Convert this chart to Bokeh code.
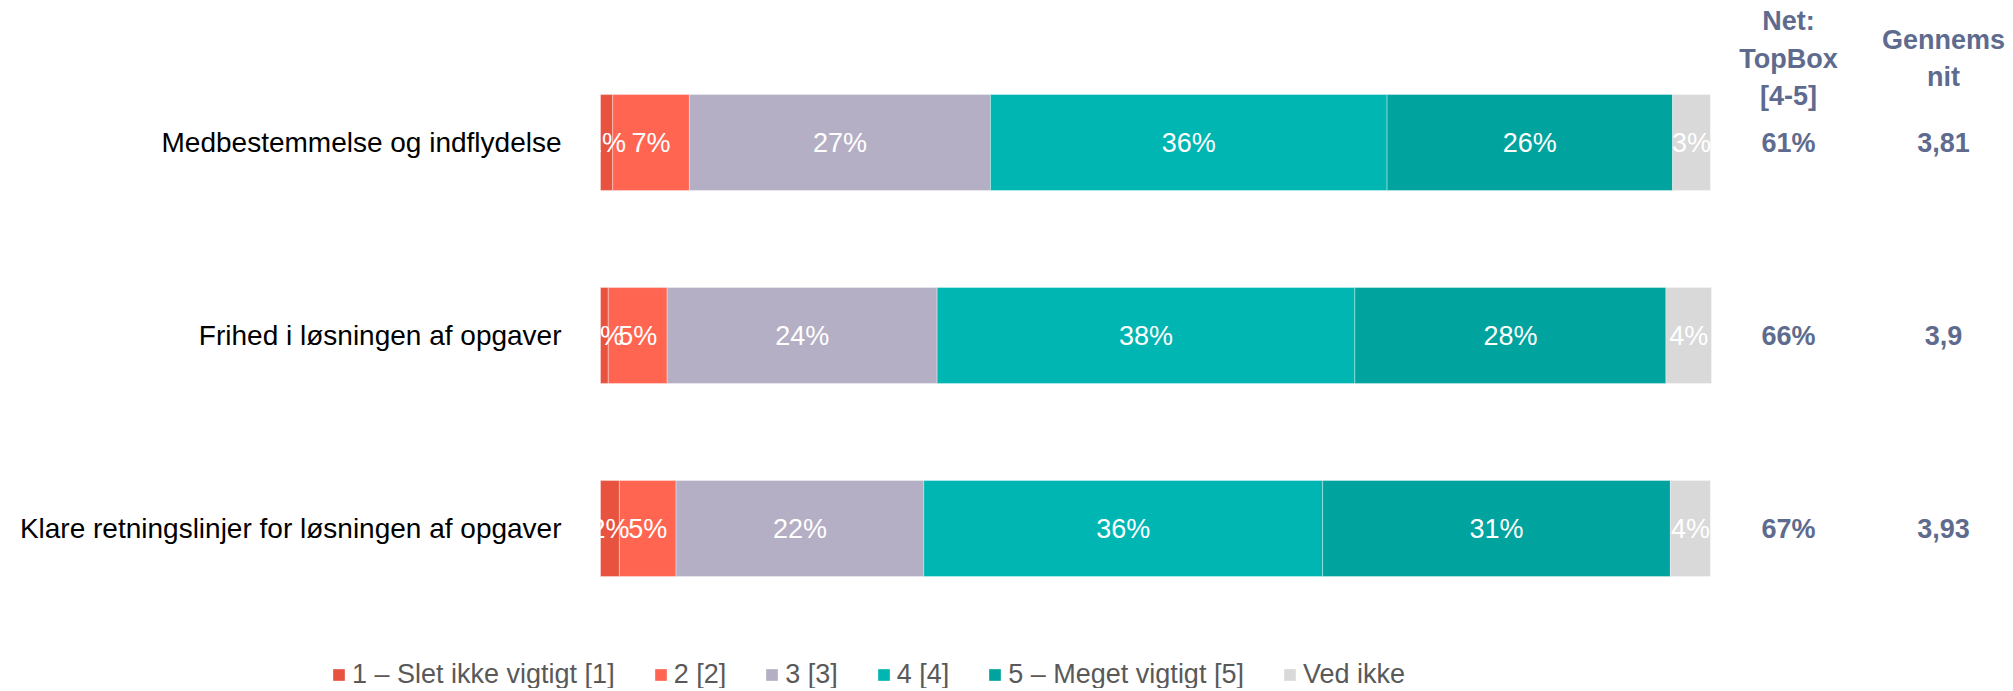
from bokeh.plotting import figure
from bokeh.models import Range1d, Legend, LegendItem, ColumnDataSource
from bokeh.core.properties import value
from bokeh.embed import file_html
from bokeh.resources import INLINE

# ---------------- data ----------------
categories = ["Medbestemmelse og indflydelse",
              "Frihed i løsningen af opgaver",
              "Klare retningslinjer for løsningen af opgaver"]
series_names = ["1 – Slet ikke vigtigt [1]", "2 [2]", "3 [3]", "4 [4]",
                "5 – Meget vigtigt [5]", "Ved ikke"]
s1 = [1.1, 0.7, 1.7]
s2 = [6.9, 5.3, 5.1]
s3 = [27.1, 24.3, 22.3]
s4 = [35.7, 37.6, 35.9]
s5 = [25.7, 28.0, 31.3]
s6 = [3.4, 4.1, 3.6]
topbox = ["61%", "66%", "67%"]
mean_vals = ["3,81", "3,9", "3,93"]
headers = ["Net:\nTopBox\n[4-5]", "Gennems\nnit"]

colors = ["#E8533F", "#FF6551", "#B4AFC4", "#00B6B3", "#00A39E", "#D9D9D9"]
HEAD_COLOR = "#5E6B8E"
FONT = "Liberation Sans"

# ---------------- layout geometry ----------------
W, H = 2005, 688
X0 = 600          # canvas x of 0%
PX = 11.11        # px per percent
ROW0 = 142        # canvas y of first row centre
PITCH = 193       # px between rows

p = figure(width=W, height=H,
           x_range=Range1d(-X0 / PX, (W - X0) / PX),
           y_range=Range1d((H - ROW0) / PITCH, -ROW0 / PITCH),
           output_backend="svg", toolbar_location=None,
           x_axis_location=None, y_axis_location=None,
           min_border=0, outline_line_color=None)
p.grid.visible = False
p.background_fill_color = "white"

ys = list(range(len(categories)))
series = [s1, s2, s3, s4, s5, s6]
keys = ["s1", "s2", "s3", "s4", "s5", "s6"]
src = ColumnDataSource(dict(y=ys, **{k: v for k, v in zip(keys, series)}))

renderers = p.hbar_stack(keys, y="y", height=0.497, color=colors, source=src,
                         line_color="white", line_alpha=0.35, line_width=1)

# segment value labels
lx, ly, lt = [], [], []
for i in range(len(categories)):
    cum = 0.0
    for s in series:
        v = s[i]
        lx.append(cum + v / 2)
        ly.append(i)
        lt.append(f"{int(v + 0.5)}%")
        cum += v
p.text(x=lx, y=ly, text=lt, text_align="center", text_baseline="middle",
       text_color="white", text_font_size="27px", text_font=value(FONT))

# category labels
p.text(x=[0] * len(ys), y=ys, text=categories, x_offset=-39,
       text_align="right", text_baseline="middle", text_color="black",
       text_font_size="28px", text_font=value(FONT))

# right-hand columns
for col_x, vals, head in [(77, topbox, headers[0]), (232, mean_vals, headers[1])]:
    p.text(x=[100] * len(ys), y=ys, text=vals, x_offset=col_x,
           text_align="center", text_baseline="middle", text_color=HEAD_COLOR,
           text_font_size="27px", text_font_style="bold", text_font=value(FONT))
    p.text(x=[100], y=[0], text=[head], x_offset=col_x, y_offset=-84,
           text_align="center", text_baseline="middle", text_color=HEAD_COLOR,
           text_font_size="27px", text_font_style="bold", text_font=value(FONT),
           text_line_height=1.25)

legend = Legend(items=[LegendItem(label=n, renderers=[r])
                       for n, r in zip(series_names, renderers)],
                orientation="horizontal", location=(331, -2),
                glyph_width=15, glyph_height=15, label_standoff=6, spacing=38,
                padding=0, margin=0, border_line_alpha=0, background_fill_alpha=0,
                label_text_font_size="27px", label_text_color="#595959",
                label_text_font=FONT)
p.add_layout(legend, "center")

open("out.html", "w").write(file_html(p, INLINE))
